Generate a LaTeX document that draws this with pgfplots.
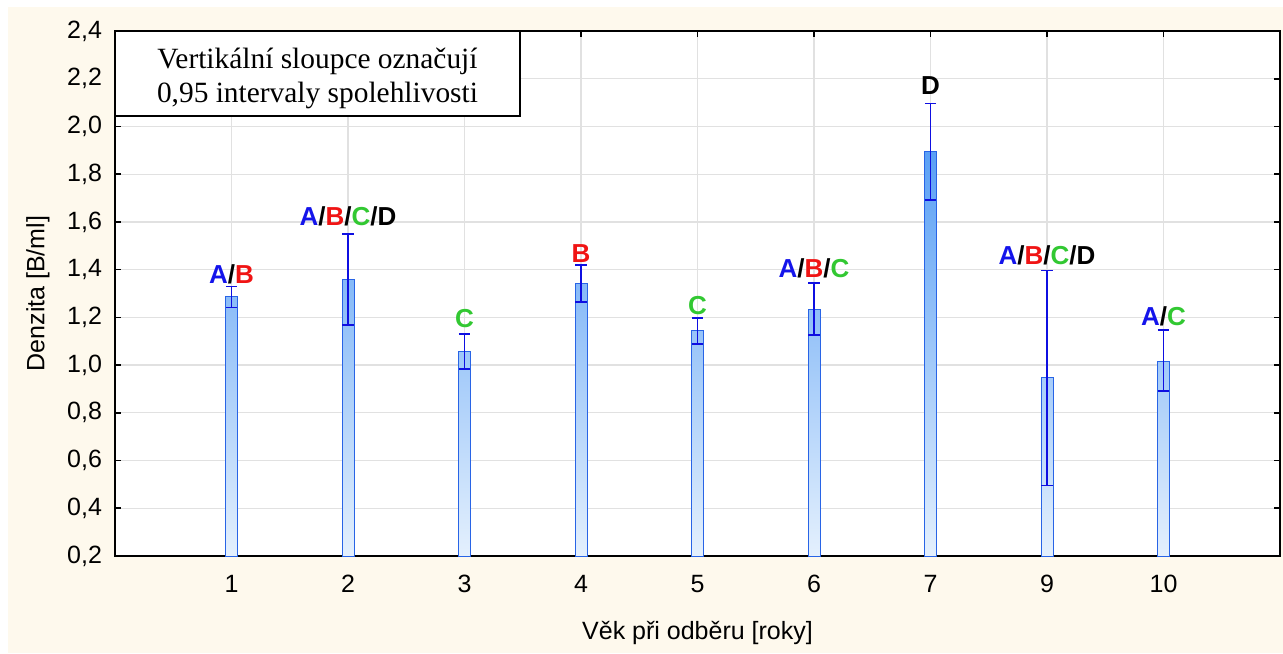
\documentclass[border=0pt]{standalone}
\usepackage{fontspec}
\setmainfont{Liberation Sans}
\newfontfamily\serif{Liberation Serif}
\usepackage{pgfplots}
\usepackage{pgfplotstable}
\pgfplotsset{compat=1.18}

\definecolor{cream}{RGB}{254,249,237}
\definecolor{barline}{RGB}{40,100,230}
\definecolor{errblue}{RGB}{15,15,225}
\definecolor{bartop}{RGB}{90,160,245}
\definecolor{barbot}{RGB}{228,240,253}
\definecolor{cA}{RGB}{20,20,235}
\definecolor{cB}{RGB}{240,20,20}
\definecolor{cC}{RGB}{50,200,50}
\definecolor{gridc}{RGB}{225,225,225}

\newcommand{\lA}{\textcolor{cA}{A}}
\newcommand{\lB}{\textcolor{cB}{B}}
\newcommand{\lC}{\textcolor{cC}{C}}
\newcommand{\lD}{D}

% pos = position on axis, mean and 0.95 interval
\pgfplotstableread{
pos mean lo hi
1 1.286 1.242 1.329
2 1.360 1.169 1.550
3 1.055 0.984 1.130
4 1.340 1.265 1.420
5 1.143 1.089 1.197
6 1.235 1.126 1.344
7 1.893 1.691 2.096
8 0.946 0.495 1.397
9 1.017 0.892 1.147
}\dens

\begin{document}
\begin{tikzpicture}
\fill[white] (-57.5pt,-48.5pt) rectangle (584pt,278pt);
\fill[cream] (-53.5pt,-48.5pt) rectangle (584pt,274.5pt);
\begin{axis}[
    scale only axis,
    width=582.5pt, height=262.5pt,
    xmin=0, xmax=10,
    ymin=0.2, ymax=2.4,
    xtick={1,...,9},
    xticklabels={1,2,3,4,5,6,7,9,10},
    ytick={0.2,0.4,0.6,0.8,1.0,1.2,1.4,1.6,1.8,2.0,2.2,2.4},
    yticklabel style={/pgf/number format/fixed, /pgf/number format/fixed zerofill,
        /pgf/number format/precision=1, /pgf/number format/use comma,
        /pgf/number format/assume math mode=true, xshift=-3pt},
    ticklabel style={font=\fontsize{12.5}{15}\selectfont},
    xticklabel style={yshift=-6pt},
    tick align=inside,
    major tick length=3pt,
    tick style={black, line width=0.8pt},
    axis line style={black, line width=1pt},
    grid=major,
    grid style={gridc, line width=0.6pt},
    axis background/.style={fill=white},
    xlabel={Věk při odběru [roky]},
    ylabel={Denzita [B/ml]},
    label style={font=\fontsize{12.5}{15}\selectfont},
    xlabel style={at={(axis description cs:0.5,0)}, anchor=center, yshift=-38.5pt},
    ylabel style={at={(axis description cs:0,0.5)}, anchor=center, yshift=38.5pt},
]
\addplot[ybar, bar width=6pt, bar shift=0pt, draw=barline, line width=0.5pt,
    top color=bartop, bottom color=barbot,
    error bars/.cd, y dir=both, y explicit,
    error bar style={errblue, line width=0.8pt},
    error mark options={rotate=90, mark size=2.8pt, errblue, line width=0.8pt}]
  table[x=pos, y=mean,
        y error plus expr=\thisrow{hi}-\thisrow{mean},
        y error minus expr=\thisrow{mean}-\thisrow{lo}] {\dens};

% group letters above intervals
\begin{scope}[every node/.style={anchor=base, inner sep=0pt, font=\fontsize{13}{15}\selectfont\bfseries}]
\node at (axis cs:1,1.340) {\lA/\lB};
\node at (axis cs:2,1.583) {\lA/\lB/\lC/\lD};
\node at (axis cs:3,1.156) {\lC};
\node at (axis cs:4,1.432) {\lB};
\node at (axis cs:5,1.214) {\lC};
\node at (axis cs:6,1.369) {\lA/\lB/\lC};
\node at (axis cs:7,2.132) {\lD};
\node at (axis cs:8,1.420) {\lA/\lB/\lC/\lD};
\node at (axis cs:9,1.164) {\lA/\lC};
\end{scope}

% note box
\draw[black, fill=white, line width=0.9pt] (rel axis cs:0,1) rectangle ++(202.5pt,-42.5pt);
\node[anchor=base, inner sep=0pt, font=\serif\fontsize{14.7}{17}\selectfont]
  at ([xshift=101.25pt, yshift=-19pt]rel axis cs:0,1) {Vertikální sloupce označují};
\node[anchor=base, inner sep=0pt, font=\serif\fontsize{14.7}{17}\selectfont]
  at ([xshift=101.25pt, yshift=-36pt]rel axis cs:0,1) {0,95 intervaly spolehlivosti};
\end{axis}
\end{tikzpicture}
\end{document}
